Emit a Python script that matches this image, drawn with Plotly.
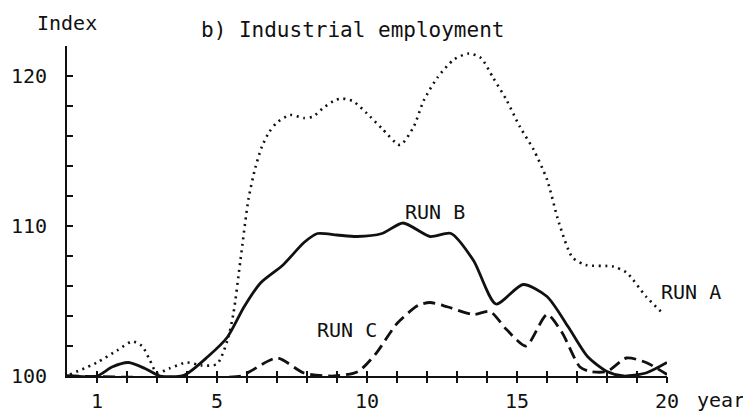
import plotly.graph_objects as go

# ---- data ----
run_a_year = [0.1, 1.0, 1.67, 2.17, 2.5, 2.75, 3.0, 3.4, 4.0, 4.5, 5.0, 5.35, 5.55, 5.78, 6.05, 6.28, 6.5, 6.72, 7.0, 7.44, 7.9, 8.2, 8.56, 8.95, 9.17, 9.55, 10.0, 10.5, 11.1, 11.55, 11.9, 12.35, 12.9, 13.4, 13.8, 14.2, 14.65, 15.1, 15.55, 16.0, 16.4, 16.85, 17.3, 18.2, 18.65, 19.3, 19.9]
run_a_index = [100.1, 100.9, 101.7, 102.3, 102.0, 101.1, 100.2, 100.5, 100.9, 100.7, 100.8, 102.4, 104.2, 107.7, 111.8, 113.9, 115.3, 116.2, 116.9, 117.4, 117.2, 117.3, 117.9, 118.4, 118.5, 118.3, 117.5, 116.5, 115.4, 116.6, 118.4, 119.9, 121.1, 121.5, 121.2, 119.9, 118.4, 116.6, 115.1, 113.1, 110.2, 107.9, 107.4, 107.3, 106.9, 105.3, 104.1]

run_b_year = [0.0, 1.0, 1.5, 2.05, 2.6, 3.1, 3.9, 4.7, 5.35, 5.9, 6.45, 7.2, 7.9, 8.35, 9.0, 9.67, 10.5, 11.2, 12.1, 12.8, 13.55, 14.3, 15.2, 16.0, 16.7, 17.35, 18.0, 18.55, 19.3, 20.0]
run_b_index = [100.0, 100.0, 100.6, 100.9, 100.5, 100.0, 100.05, 101.3, 102.6, 104.6, 106.2, 107.4, 108.9, 109.5, 109.4, 109.3, 109.5, 110.2, 109.3, 109.5, 107.7, 104.8, 106.1, 105.3, 103.3, 101.3, 100.3, 100.0, 100.2, 100.9]

run_c_year = [0.0, 5.8, 6.1, 7.0, 7.9, 8.9, 9.7, 10.3, 11.0, 11.7, 12.1, 12.7, 13.55, 14.1, 14.65, 15.3, 16.0, 16.5, 17.1, 17.45, 18.0, 18.65, 19.3, 20.0]
run_c_index = [100.0, 100.0, 100.3, 101.2, 100.2, 100.0, 100.3, 101.5, 103.5, 104.7, 104.9, 104.6, 104.1, 104.3, 103.1, 102.0, 104.1, 102.9, 100.6, 100.3, 100.3, 101.2, 100.9, 100.1]

x_tick_vals = list(range(1, 21))
x_tick_text = ["1", "", "", "", "5", "", "", "", "", "10", "", "", "", "", "15", "", "", "", "", "20"]
y_tick_vals = list(range(100, 123, 2))
y_tick_text = ["100", "", "", "", "", "110", "", "", "", "", "120", ""]

FONT = "DejaVu Sans Mono"
INK = "#111111"
FS = 20

fig = go.Figure()
fig.add_trace(go.Scatter(x=run_a_year, y=run_a_index, mode="lines",
                         line=dict(color=INK, width=2.6, dash="2px,4.6px", shape="spline", smoothing=0.7),
                         showlegend=False, hoverinfo="skip"))
fig.add_trace(go.Scatter(x=run_b_year, y=run_b_index, mode="lines",
                         line=dict(color=INK, width=2.8, shape="spline", smoothing=0.7),
                         showlegend=False, hoverinfo="skip"))
fig.add_trace(go.Scatter(x=run_c_year, y=run_c_index, mode="lines",
                         line=dict(color=INK, width=2.8, dash="12px,6px", shape="spline", smoothing=0.7),
                         showlegend=False, hoverinfo="skip"))
# invisible trace to carry the second (outside-tick) x axis
fig.add_trace(go.Scatter(x=[0, 20], y=[100, 100], xaxis="x2", mode="lines",
                         line=dict(width=0), showlegend=False, hoverinfo="skip"))

fig.update_layout(
    width=751, height=415,
    margin=dict(l=59, r=92, t=38, b=47, autoexpand=False),
    paper_bgcolor="white", plot_bgcolor="white",
    font=dict(family=FONT, color=INK, size=FS),
    xaxis=dict(range=[0, 20], showgrid=False, zeroline=False, automargin=False,
               showline=True, linecolor=INK, linewidth=1.8,
               tickmode="array", tickvals=x_tick_vals, ticktext=x_tick_text,
               ticks="inside", ticklen=5, tickwidth=1.5, tickcolor=INK,
               tickfont=dict(family=FONT, size=FS, color=INK), ticklabelstandoff=6),
    xaxis2=dict(range=[0, 20], overlaying="x", anchor="y", side="bottom", automargin=False,
                showgrid=False, zeroline=False, showline=False,
                tickmode="array", tickvals=x_tick_vals, showticklabels=False,
                ticks="outside", ticklen=6, tickwidth=1.5, tickcolor=INK),
    yaxis=dict(range=[100, 122], showgrid=False, zeroline=False, automargin=False,
               showline=True, linecolor=INK, linewidth=1.8,
               tickmode="array", tickvals=y_tick_vals, ticktext=y_tick_text,
               ticks="inside", ticklen=6, tickwidth=1.5, tickcolor=INK,
               tickfont=dict(family=FONT, size=FS, color=INK), ticklabelstandoff=14),
)

ann = dict(showarrow=False, xref="paper", yref="paper", font=dict(family=FONT, size=FS, color=INK))
fig.add_annotation(x=0.475, y=1.048, text="b) Industrial employment", xanchor="center", yanchor="middle",
                   showarrow=False, xref="paper", yref="paper", font=dict(family=FONT, size=21, color=INK))
fig.add_annotation(x=0.0, y=1.070, text="Index", xanchor="center", yanchor="middle", **ann)
fig.add_annotation(x=0.613, y=0.497, text="RUN B", xanchor="center", yanchor="middle", **ann)
fig.add_annotation(x=0.467, y=0.139, text="RUN C", xanchor="center", yanchor="middle", **ann)
fig.add_annotation(x=1.04, y=0.2545, text="RUN A", xanchor="center", yanchor="middle", **ann)
fig.add_annotation(x=1.047, y=-0.0727, text="year", xanchor="left", yanchor="middle", **ann)

fig.write_html("out.html")
